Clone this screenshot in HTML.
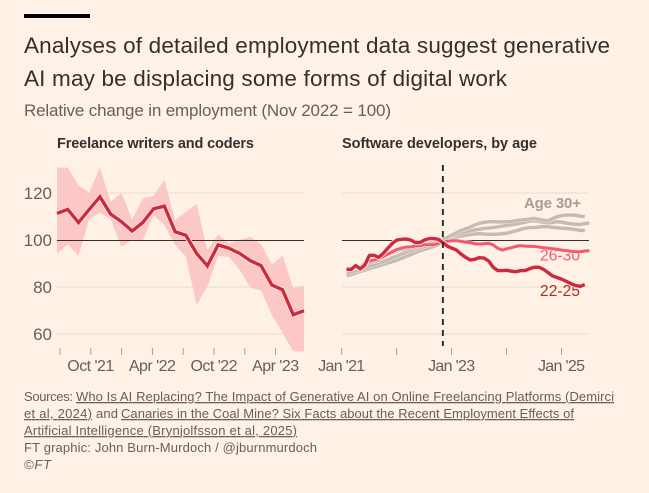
<!DOCTYPE html>
<html lang="en">
<head>
<meta charset="utf-8">
<title>Generative AI and digital work</title>
<style>
html,body{margin:0;padding:0;background:#fff1e5;}
svg{display:block;}
text{font-family:"Liberation Sans",sans-serif;}
.u{text-decoration:underline;}
</style>
</head>
<body>
<svg id="chart" width="649" height="493" viewBox="0 0 649 493" xmlns="http://www.w3.org/2000/svg">
<rect x="0" y="0" width="649" height="493" fill="#fff1e5"/>
<rect x="24" y="14" width="66" height="4" fill="#000"/>
<text x="24" y="53" font-size="22.5" fill="#33302e" textLength="586">Analyses of detailed employment data suggest generative</text>
<text x="24" y="86" font-size="22.5" fill="#33302e" textLength="483">AI may be displacing some forms of digital work</text>
<text x="24" y="116" font-size="17" fill="#66605c" textLength="367">Relative change in employment (Nov 2022 = 100)</text>
<text x="57" y="148" font-size="14.5" font-weight="bold" fill="#33302e" textLength="197">Freelance writers and coders</text>
<text x="342" y="148" font-size="14.5" font-weight="bold" fill="#33302e" textLength="195">Software developers, by age</text>
<g id="plot"></g>
<g font-size="13" fill="#66605c">
<text x="24" y="401" textLength="49">Sources:</text>
<text class="u" x="76" y="401" textLength="538">Who Is AI Replacing? The Impact of Generative AI on Online Freelancing Platforms (Demirci</text>
<text class="u" x="24" y="418" textLength="68">et al, 2024)</text>
<text x="96" y="418" textLength="22">and</text>
<text class="u" x="121" y="418" textLength="453">Canaries in the Coal Mine? Six Facts about the Recent Employment Effects of</text>
<text class="u" x="24" y="435" textLength="273">Artificial Intelligence (Brynjolfsson et al, 2025)</text>
<text x="24" y="452" textLength="293">FT graphic: John Burn-Murdoch / @jburnmurdoch</text>
<text x="24" y="469" font-style="italic" textLength="27">©FT</text>
</g>
</svg>
<script>
const yTicks = [120, 100, 80, 60];
const leftTickLabels = ['', "Oct '21", '', "Apr '22", '', "Oct '22", '', "Apr '23"];
const rightTickLabels = ["Jan '21", '', "Jan '23", '', "Jan '25"];
const freelanceMain = [111.3,113,107.4,113,118.4,111,107.8,103.8,107.5,113.3,114.4,103.5,102,94.3,89,97.9,96.5,94.3,91.2,89.1,80.9,78.8,68.2,69.9];
const freelanceUpper = [130.8,130.8,123.3,120.2,130.8,116.3,120.1,108.8,117.7,118.8,125.7,108.5,112,115.3,95.8,102.4,98.6,100,101.4,98.2,89.4,93.4,79.5,80.6];
const freelanceLower = [94.1,98.2,93.2,108.9,111.6,108.8,97.2,100,100,110.6,106.4,97.9,92.9,72.4,80.2,93.2,92.9,87.3,79.8,78.4,68.2,60.4,52.6,52.6];
const age22to25 = [87.5,87.5,89.1,87.7,89.4,93.5,93.5,92.6,94.3,96.5,98.6,100,100.3,100.4,100,98.9,98.9,100,100.6,100.6,100.3,98.9,97.4,96.5,95.7,94,92.6,91.5,91.8,92.5,92.3,91.1,88.4,87,87,87.1,86.7,86.5,87,87,87.8,88.4,88.4,87.5,86.1,84.7,84,83.3,82.4,81.4,80.6,80.3,81];
const age26to30 = [87,88,88.5,88.5,90,91,91.5,92,93,94,95,96,96.5,97,97,97.5,97.5,98,98,98,98.5,99,99.5,99.7,99.7,99.4,99.1,98.9,98.4,98.3,98.4,98.6,97.9,96.5,95.7,96.3,96.7,97.3,97.6,97.4,97.3,97.3,97,96.7,96.5,96.3,96,95.7,95.5,95.2,95,95,95.3,95.4];
const age30PlusTop = [87.2,87.5,88.1,88.4,89.2,90.4,90.9,91.2,92.6,93.8,94.6,95.5,96,96.3,96.6,96.9,97.4,98,98.6,99.1,99.7,100.3,101.1,102.1,103.1,104,104.8,105.5,106.4,107.1,107.5,107.8,107.8,107.7,107.7,107.8,107.9,108.2,108.5,108.7,108.9,109.2,108.8,108.4,108.2,109.1,109.9,110.4,110.6,110.6,110.5,110.2,109.9];
const age30PlusMid = [85.8,86.2,87,87.2,88,88.8,89.5,90,90.8,91.5,92.5,93.2,94,94.8,95.5,96,96.6,97.2,97.8,98.4,99,99.8,100.8,101.6,102.2,102.8,103.4,103.9,104.3,104.6,104.9,105.1,105.3,105.6,105.9,106.2,106.5,106.8,107.2,107.6,108,108.2,107.9,107.5,107.3,107.5,107.8,107.6,107.2,106.9,106.7,106.6,107,107.2];
const age30PlusLow = [84.8,85.3,86,86.6,87.2,87.8,88.4,89,89.6,90.2,90.8,91.4,92.2,93,93.8,94.6,95.4,96,96.6,97.2,98,99.2,100.2,100.8,101.3,101.7,102,102.3,102.6,102.7,102.6,102.4,102.4,102.5,102.7,102.9,103.4,103.9,104.5,105,105.3,105.3,105.5,105.7,105.6,105.4,105.2,105,104.9,104.7,104.4,104.1,104];
const policyMonth = 22;

const NS = 'http://www.w3.org/2000/svg';
const plot = document.getElementById('plot');
function yScale(v) { return 240 - (v - 100) * 2.35; }
function leftX(i) { return 57 + i * (247 / (freelanceMain.length - 1)); }
function leftTickX(k) { return 60 + k * 30.8; }
function rightX(i) { return 346.6 + i * 4.58; }
function rightTickX(k) { return 341.7 + k * 54.95; }
function add(tag, attrs, parent) {
  const el = document.createElementNS(NS, tag);
  for (const k in attrs) el.setAttribute(k, attrs[k]);
  (parent || plot).appendChild(el);
  return el;
}
function linePath(vals, xf) {
  return vals.map((v, i) => (i ? 'L' : 'M') + xf(i).toFixed(2) + ' ' + yScale(v).toFixed(2)).join('');
}

// gridlines
for (const t of yTicks) {
  if (t !== 100) {
    const g1 = add('line', {x1: 57, x2: 304, y1: yScale(t), y2: yScale(t), stroke: '#e9dcd1', 'stroke-width': 1});
    
    
    const g2 = add('line', {x1: 342, x2: 589, y1: yScale(t), y2: yScale(t), stroke: '#e9dcd1', 'stroke-width': 1});
    
    
  }
  const lab = add('text', {x: 52, y: yScale(t) + 6, 'text-anchor': 'end', 'font-size': 17, fill: '#66605c'});
  lab.textContent = t;
  
  
}

// left band
const bandPts = freelanceUpper.map((v, i) => leftX(i).toFixed(2) + ',' + yScale(v).toFixed(2))
  .concat(freelanceLower.map((v, i) => leftX(i).toFixed(2) + ',' + yScale(v).toFixed(2)).reverse());
const band = add('polygon', {points: bandPts.join(' '), fill: '#fcc8c5'});



// baselines
const base1 = add('line', {x1: 57, x2: 304, y1: yScale(100) + 0.5, y2: yScale(100) + 0.5, stroke: '#33302e', 'stroke-width': 1.1});


const base2 = add('line', {x1: 342, x2: 589, y1: yScale(100) + 0.5, y2: yScale(100) + 0.5, stroke: '#33302e', 'stroke-width': 1.1});



// ticks and tick labels
leftTickLabels.forEach((l, k) => {
  const x = leftTickX(k);
  const t = add('line', {x1: x, x2: x, y1: 348, y2: 355, stroke: '#a9a098', 'stroke-width': 1});
  
  
  if (l) {
    const tx = add('text', {x: x, y: 371, 'text-anchor': 'middle', 'font-size': 16, fill: '#66605c', textLength: 47});
    tx.textContent = l;
    
    
  }
});
rightTickLabels.forEach((l, k) => {
  const x = rightTickX(k);
  const t = add('line', {x1: x, x2: x, y1: 348, y2: 355, stroke: '#a9a098', 'stroke-width': 1});
  
  
  if (l) {
    const tx = add('text', {x: x, y: 371, 'text-anchor': 'middle', 'font-size': 16, fill: '#66605c', textLength: 47});
    tx.textContent = l;
    
    
  }
});

// series labels (beneath lines)
const lab30 = add('text', {x: 524, y: 208, 'font-size': 15, 'font-weight': 'bold', fill: '#a69e94', textLength: 57});
lab30.textContent = 'Age 30+';


const lab26 = add('text', {x: 540, y: 260.5, 'font-size': 15.5, fill: '#f2596f', textLength: 40});
lab26.textContent = '26-30';


const lab22 = add('text', {x: 540, y: 296, 'font-size': 15.5, fill: '#b32d13', textLength: 40});
lab22.textContent = '22-25';



// freelance line
const fh = add('path', {d: linePath(freelanceMain, leftX), fill: 'none', stroke: '#fff1e5', 'stroke-width': 5, 'stroke-linejoin': 'round'});


const fl = add('path', {d: linePath(freelanceMain, leftX), fill: 'none', stroke: '#cc2a3f', 'stroke-width': 3.4, 'stroke-linejoin': 'miter'});



// right series
function drawRight(vals, color, width, halo) {
  const h = add('path', {d: linePath(vals, rightX), fill: 'none', stroke: '#fff1e5', 'stroke-width': halo, 'stroke-linejoin': 'round'});
  
  
  const p = add('path', {d: linePath(vals, rightX), fill: 'none', stroke: color, 'stroke-width': width, 'stroke-linejoin': 'round'});
  
  
}
drawRight(age30PlusLow, '#c4bcb3', 3.4, 4.2);
drawRight(age30PlusMid, '#c4bcb3', 3.4, 4.2);
drawRight(age30PlusTop, '#c4bcb3', 3.4, 4.2);
drawRight(age26to30, '#f2596f', 3, 4);
drawRight(age22to25, '#cc2a3f', 3.4, 5);

// dashed marker
const dash = add('line', {x1: rightX(policyMonth - 1) + 0.1, x2: rightX(policyMonth - 1) + 0.1, y1: 165, y2: 346, stroke: '#33302e', 'stroke-width': 2, 'stroke-dasharray': '6 5'});


</script>
</body>
</html>
